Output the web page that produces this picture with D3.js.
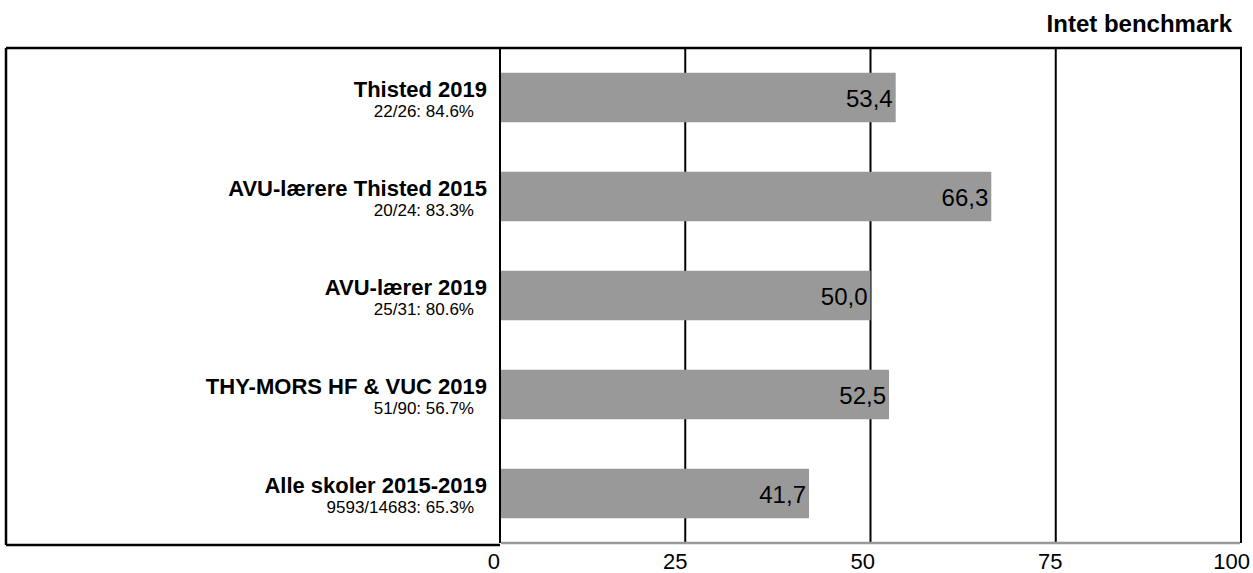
<!DOCTYPE html>
<html>
<head>
<meta charset="utf-8">
<script src="https://cdn.jsdelivr.net/npm/d3@7"></script>
<style>
  body { margin: 0; background: #fff; }
  text { font-family: "Liberation Sans", Arial, sans-serif; }
</style>
</head>
<body>
<div id="chart"></div>
<script>
// data
const categories = ["Thisted 2019", "AVU-lærere Thisted 2015", "AVU-lærer 2019", "THY-MORS HF & VUC 2019", "Alle skoler 2015-2019"];
const subLabels = ["22/26: 84.6%", "20/24: 83.3%", "25/31: 80.6%", "51/90: 56.7%", "9593/14683: 65.3%"];
const values = [53.4, 66.3, 50.0, 52.5, 41.7];
const ticks = [0, 25, 50, 75, 100];
const header = "Intet benchmark";

const W = 1253, H = 573;
const frameLeft = 6, plotLeft = 500, plotRight = 1241, plotTop = 48, plotBottom = 543;

const svg = d3.select("#chart").append("svg")
  .attr("width", W)
  .attr("height", H);

const x = d3.scaleLinear().domain([0, 100]).range([plotLeft, plotRight]);
// tick labels sit a little off the gridlines in the original, on their own spacing
const xLab = d3.scaleLinear().domain([0, 100]).range([plotLeft, plotLeft + 750]);
const y = d3.scaleBand().domain(categories).range([plotTop, plotBottom])
  .paddingInner(0.5).paddingOuter(0.25);
const mid = c => y(c) + y.bandwidth() / 2;

// header
svg.append("text")
  .attr("x", 1232)
  .attr("y", 32)
  .attr("text-anchor", "end")
  .style("font-size", "24px")
  .style("font-weight", "bold")
  .text(header);

// gridlines (bars go on top of them)
svg.selectAll(".grid")
  .data(ticks)
  .join("line")
    .attr("class", "grid")
    .attr("x1", d => x(d))
    .attr("x2", d => x(d))
    .attr("y1", plotTop)
    .attr("y2", plotBottom)
    .attr("stroke", "#000")
    .attr("stroke-width", 2);

// bars
svg.selectAll(".bar")
  .data(values)
  .join("rect")
    .attr("class", "bar")
    .attr("x", x(0) + 1)
    .attr("y", (d, i) => y(categories[i]))
    .attr("width", d => x(d) - x(0) - 1)
    .attr("height", y.bandwidth())
    .attr("fill", "#999999");

// frame
svg.append("line")
  .attr("x1", frameLeft).attr("x2", plotRight + 1)
  .attr("y1", plotTop).attr("y2", plotTop)
  .attr("stroke", "#000").attr("stroke-width", 2.5);
svg.append("line")
  .attr("x1", frameLeft).attr("x2", frameLeft)
  .attr("y1", plotTop).attr("y2", plotBottom + 2)
  .attr("stroke", "#000").attr("stroke-width", 2.5);
svg.append("line")
  .attr("x1", frameLeft).attr("x2", plotLeft)
  .attr("y1", plotBottom + 2).attr("y2", plotBottom + 2)
  .attr("stroke", "#000").attr("stroke-width", 2.5);

// grey value axis
svg.append("line")
  .attr("x1", plotLeft + 1).attr("x2", plotRight - 1)
  .attr("y1", plotBottom).attr("y2", plotBottom)
  .attr("stroke", "#999999").attr("stroke-width", 2.5);

// tick labels
svg.selectAll(".tick-label")
  .data(ticks)
  .join("text")
    .attr("class", "tick-label")
    .attr("x", d => xLab(d))
    .attr("y", 569)
    .attr("text-anchor", "end")
    .style("font-size", "22px")
    .text(d => d);

// category labels
svg.selectAll(".cat")
  .data(categories)
  .join("text")
    .attr("class", "cat")
    .attr("x", 487)
    .attr("y", d => mid(d) - 1)
    .attr("text-anchor", "end")
    .style("font-size", "22px")
    .style("font-weight", "bold")
    .text(d => d);

svg.selectAll(".sub")
  .data(subLabels)
  .join("text")
    .attr("class", "sub")
    .attr("x", 474)
    .attr("y", (d, i) => mid(categories[i]) + 19)
    .attr("text-anchor", "end")
    .style("font-size", "17px")
    .text(d => d);

// value labels inside bars
const fmt = d => d.toFixed(1).replace(".", ",");
svg.selectAll(".val")
  .data(values)
  .join("text")
    .attr("class", "val")
    .attr("x", d => x(d) - 3)
    .attr("y", (d, i) => mid(categories[i]) + 9)
    .attr("text-anchor", "end")
    .style("font-size", "24px")
    .text(d => fmt(d));
</script>
</body>
</html>
